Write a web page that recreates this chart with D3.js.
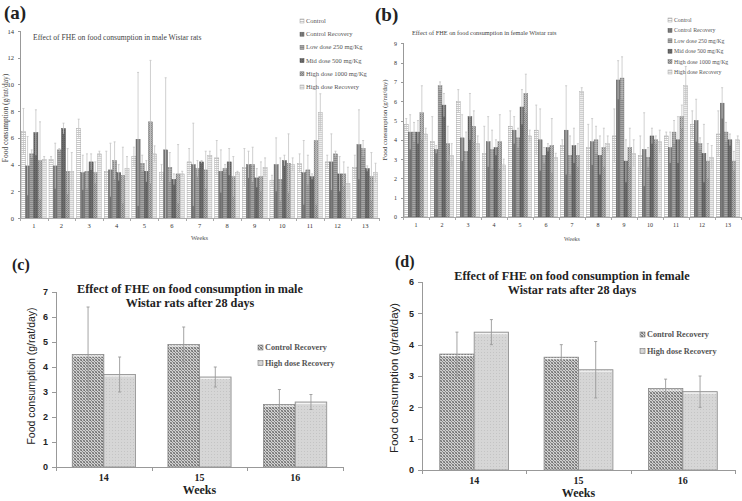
<!DOCTYPE html>
<html lang="en">
<head>
<meta charset="utf-8">
<title>Effect of FHE on food consumption</title>
<script src="https://cdn.jsdelivr.net/npm/d3@7"></script>
<style>
body { margin: 0; background: #fff; }
svg { display: block; }
.axis path, .axis line { stroke: #999; shape-rendering: crispEdges; }
</style>
</head>
<body>
<script>
// ---- data ----
var weeks = ["1","2","3","4","5","6","7","8","9","10","11","12","13"];
var seriesNames = ["Control", "Control Recovery", "Low dose 250 mg/Kg",
                   "Mid dose 500 mg/Kg", "High dose 1000 mg/Kg", "High dose Recovery"];

// male, weeks 1-13 (one array per series)
var maleControl = [6.5, 4.4, 6.7, 3.5, 4.6, 3.4, 4.2, 4.5, 3.8, 2.8, 4.1, 4.2, 3.8];
var maleCtrlRec = [3.9, 3.9, 3.4, 3.6, 5.9, 5.1, 4.0, 3.5, 4.0, 4.0, 3.4, 4.2, 5.5];
var maleLow     = [4.8, 5.1, 3.5, 4.3, 4.1, 3.8, 3.7, 3.7, 4.0, 2.9, 3.6, 4.8, 5.2];
var maleMid     = [6.4, 6.7, 4.2, 3.4, 3.5, 2.9, 4.2, 4.2, 3.0, 4.3, 3.1, 3.3, 3.7];
var maleHigh    = [4.3, 3.5, 3.4, 3.2, 7.2, 3.3, 3.6, 3.1, 3.1, 4.1, 5.8, 3.3, 3.1];
var maleHighRec = [4.4, 3.5, 4.8, 3.7, 4.8, 3.3, 4.7, 3.4, 3.8, 4.0, 7.9, 2.6, 3.4];

var maleControlSd = [1.7, 0.2, 0.7, 1.5, 0.7, 0.6, 1.0, 1.3, 1.4, 0.4, 0.7, 0.5, 0.9];
var maleCtrlRecSd = [2.2, 1.7, 1.3, 2.0, 5.0, 5.4, 3.1, 1.6, 1.0, 2.0, 2.4, 2.1, 2.6];
var maleLowSd     = [0.3, 0.1, 1.3, 1.4, 0.6, 1.1, 0.6, 0.3, 1.3, 1.6, 1.1, 0.2, 0.6];
var maleMidSd     = [1.7, 0.4, 0.6, 0.6, 0.8, 0.4, 0.1, 1.0, 0.7, 0.4, 0.2, 1.3, 0.2];
var maleHighSd    = [2.9, 1.7, 0.8, 2.1, 4.6, 2.2, 1.4, 1.5, 1.1, 2.2, 4.8, 0.9, 1.8];
var maleHighRecSd = [0.2, 1.4, 0.2, 0.9, 0.6, 0.2, 0.3, 0.1, 0.7, 0.5, 1.4, 1.2, 0.7];

// female, weeks 1-13
var femControl = [4.8, 3.9, 6.0, 3.3, 4.7, 4.5, 3.7, 3.6, 4.2, 3.2, 4.2, 4.8, 4.3];
var femCtrlRec = [4.4, 3.5, 4.1, 3.9, 4.5, 4.0, 4.5, 3.9, 7.1, 3.5, 3.6, 5.0, 5.9];
var femLow     = [4.4, 6.8, 3.4, 3.5, 4.1, 3.2, 3.2, 4.0, 7.2, 3.1, 4.4, 3.8, 4.4];
var femMid     = [4.4, 5.8, 5.2, 3.6, 5.7, 3.6, 3.7, 3.2, 2.9, 4.2, 4.0, 3.3, 4.0];
var femHigh    = [5.4, 3.8, 4.7, 3.9, 6.4, 3.7, 3.2, 3.6, 3.6, 4.0, 5.2, 2.9, 2.9];
var femHighRec = [4.3, 3.2, 3.8, 2.7, 4.2, 3.1, 6.5, 3.8, 3.3, 3.9, 6.8, 3.1, 4.0];

var femControlSd = [0.3, 1.3, 0.6, 1.4, 0.8, 1.3, 0.3, 1.2, 1.4, 1.0, 0.2, 0.7, 1.2];
var femCtrlRecSd = [0.9, 0.2, 1.2, 1.3, 0.7, 1.6, 2.3, 1.2, 1.0, 1.9, 0.8, 1.1, 0.8];
var femLowSd     = [0.5, 0.2, 1.0, 1.0, 0.5, 0.4, 1.0, 0.7, 1.1, 0.5, 0.6, 0.3, 0.5];
var femMidSd     = [0.6, 0.6, 1.2, 0.4, 0.9, 0.2, 0.9, 1.0, 1.1, 0.4, 1.2, 1.5, 0.3];
var femHighSd    = [1.4, 0.9, 0.8, 1.4, 1.0, 1.4, 0.6, 1.0, 1.0, 0.2, 0.6, 0.9, 0.5];
var femHighRecSd = [0.3, 0.6, 0.4, 0.3, 0.3, 0.2, 0.2, 0.4, 0.7, 0.6, 1.0, 0.6, 0.2];

// recovery period, weeks 14-16
var recWeeks = ["14", "15", "16"];
var recNames = ["Control Recovery", "High dose Recovery"];
var maleRecCtrl = [4.5, 4.9, 2.5],   maleRecCtrlSd = [1.9, 0.7, 0.6];
var maleRecHigh = [3.7, 3.6, 2.6],   maleRecHighSd = [0.7, 0.4, 0.3];
var femRecCtrl  = [3.7, 3.6, 2.6],   femRecCtrlSd  = [0.7, 0.4, 0.3];
var femRecHigh  = [4.4, 3.2, 2.5],   femRecHighSd  = [0.4, 0.9, 0.5];

var w = 742, h = 501;
var serif = '"Liberation Serif", "DejaVu Serif", serif';
var sans = '"Liberation Sans", Roboto, sans-serif';

var svg = d3.select("body").append("svg")
    .attr("width", w)
    .attr("height", h);

// ---- fill patterns ----
var defs = svg.append("defs");
function pattern(id, size, bg, cells) {
    var p = defs.append("pattern")
        .attr("id", id)
        .attr("width", size).attr("height", size)
        .attr("patternUnits", "userSpaceOnUse");
    p.append("rect").attr("width", size).attr("height", size).attr("fill", bg);
    cells.forEach(function(c) {
        p.append("rect").attr("x", c[0]).attr("y", c[1])
            .attr("width", c[2]).attr("height", c[3]).attr("fill", c[4]);
    });
}
pattern("pC",   2, "#ffffff", [[0, 0, 2, 1, "#c8c8c8"]]);
pattern("pCR",  2, "#7c7c7c", [[0, 0, 1, 2, "#707070"]]);
pattern("pL",   2, "#a8a8a8", [[0, 0, 2, 1, "#8a8a8a"]]);
pattern("pM",   2, "#6a6a6a", [[0, 0, 1, 1, "#5a5a5a"]]);
pattern("pH",   2, "#b0b0b0", [[0, 0, 1, 1, "#7e7e7e"], [1, 1, 1, 1, "#8e8e8e"]]);
pattern("pHR",  2, "#ececec", [[0, 0, 2, 1, "#d0d0d0"]]);
pattern("rCR",  3, "#d2d2d2", [[0, 0, 1, 1, "#6e6e6e"], [1, 1, 1, 1, "#8a8a8a"], [2, 2, 1, 1, "#7a7a7a"], [2, 0, 1, 1, "#9a9a9a"], [0, 2, 1, 1, "#9a9a9a"]]);
pattern("rHR",  3, "#d6d6d6", [[1, 1, 1, 1, "#c4c4c4"]]);

var weeklyFills = ["url(#pC)", "url(#pCR)", "url(#pL)", "url(#pM)", "url(#pH)", "url(#pHR)"];
var weeklyEdges = ["#9a9a9a", "#5e5e5e", "#777", "#4e4e4e", "#777", "#a8a8a8"];

// ---- weekly panel (a) / (b) ----
function weeklyPanel(o) {
    var g = svg.append("g");
    var x0 = d3.scaleBand().domain(weeks).range([o.left, o.right])
        .paddingInner(0.1).paddingOuter(0.05);
    var x1 = d3.scaleBand().domain(d3.range(seriesNames.length))
        .range([0, x0.bandwidth()]);
    var y = d3.scaleLinear().domain([0, o.yMax]).range([o.bottom, o.top]);

    var yAxis = d3.axisLeft(y).tickValues(o.ticks).tickSize(2).tickPadding(4);
    g.append("g").attr("class", "axis")
        .attr("transform", "translate(" + o.left + ",0)")
        .call(yAxis)
        .call(function(s) {
            s.selectAll("text").attr("font-family", serif).attr("font-size", o.tickFont).attr("fill", "#333");
            s.select(".domain").attr("stroke", "#bbb");
        });

    // bars
    o.means.forEach(function(vals, si) {
        g.append("g").selectAll("rect")
            .data(vals)
            .enter().append("rect")
            .attr("x", function(d, i) { return x0(weeks[i]) + x1(si); })
            .attr("y", function(d) { return y(d); })
            .attr("width", x1.bandwidth())
            .attr("height", function(d) { return y(0) - y(d); })
            .attr("fill", weeklyFills[si])
            .attr("stroke", weeklyEdges[si])
            .attr("stroke-width", 0.4);
    });
    // error bars
    o.means.forEach(function(vals, si) {
        var sds = o.sds[si];
        var eg = g.append("g").attr("stroke", "#c4c4c4").attr("stroke-width", 0.8);
        vals.forEach(function(d, i) {
            var cx = x0(weeks[i]) + x1(si) + x1.bandwidth() / 2;
            eg.append("line").attr("x1", cx).attr("x2", cx)
                .attr("y1", y(Math.max(0, d - sds[i]))).attr("y2", y(d + sds[i]));
            eg.append("line").attr("x1", cx - 1).attr("x2", cx + 1)
                .attr("y1", y(d + sds[i])).attr("y2", y(d + sds[i]));
        });
    });

    // x axis with ticks between weeks
    var step = x0.step();
    var xa = g.append("g").attr("stroke", "#aaa");
    xa.append("line").attr("x1", o.left).attr("x2", o.right)
        .attr("y1", y(0) + 0.5).attr("y2", y(0) + 0.5);
    weeks.concat([""]).forEach(function(wk, i) {
        var bx = Math.round(o.left + i * step) + 0.5;
        xa.append("line").attr("x1", bx).attr("x2", bx)
            .attr("y1", y(0)).attr("y2", y(0) + 3);
    });
    g.append("g").selectAll("text")
        .data(weeks).enter().append("text")
        .attr("x", function(d) { return x0(d) + x0.bandwidth() / 2; })
        .attr("y", y(0) + 10)
        .attr("text-anchor", "middle")
        .attr("font-family", serif).attr("font-size", o.tickFont).attr("fill", "#333")
        .text(function(d) { return d; });

    g.append("text")
        .attr("x", (o.left + o.right) / 2).attr("y", o.weeksY)
        .attr("text-anchor", "middle")
        .attr("font-family", serif).attr("font-size", o.tickFont).attr("fill", "#555")
        .text("Weeks");

    g.append("text")
        .attr("transform", "translate(" + o.yLabelX + "," + o.yLabelY + ") rotate(-90)")
        .attr("text-anchor", "middle")
        .attr("font-family", serif).attr("font-size", o.yLabelFont).attr("fill", "#444")
        .text("Food consumption (g/rat/day)");

    g.append("text")
        .attr("x", o.titleX).attr("y", o.titleY)
        .attr("font-family", serif).attr("font-size", o.titleFont).attr("fill", "#444")
        .text(o.title);

    // legend
    var lg = g.append("g").attr("transform", "translate(" + o.legendX + "," + o.legendY + ")");
    seriesNames.forEach(function(name, si) {
        var ly = si * o.legendStep;
        lg.append("rect").attr("x", 0).attr("y", ly - 4).attr("width", 4).attr("height", 4)
            .attr("fill", weeklyFills[si]).attr("stroke", weeklyEdges[si]).attr("stroke-width", 0.5);
        lg.append("text").attr("x", 6).attr("y", ly)
            .attr("font-family", serif).attr("font-size", o.legendFont).attr("fill", "#555")
            .text(name);
    });

    svg.append("text")
        .attr("x", o.tagX).attr("y", o.tagY)
        .attr("font-family", serif).attr("font-weight", "bold").attr("font-size", 19)
        .attr("fill", "#222")
        .text(o.tag);
}

weeklyPanel({
    tag: "(a)", tagX: 4, tagY: 19,
    left: 20, right: 379, top: 31, bottom: 218, yMax: 14,
    ticks: [0, 2, 4, 6, 8, 10, 12, 14], tickFont: 6.5,
    means: [maleControl, maleCtrlRec, maleLow, maleMid, maleHigh, maleHighRec],
    sds: [maleControlSd, maleCtrlRecSd, maleLowSd, maleMidSd, maleHighSd, maleHighRecSd],
    title: "Effect of FHE on food consumption in male Wistar rats",
    titleX: 33, titleY: 40, titleFont: 7.6,
    legendX: 300, legendY: 23, legendStep: 13.2, legendFont: 6.5,
    yLabelX: 8, yLabelY: 118, yLabelFont: 7.4, weeksY: 240
});

weeklyPanel({
    tag: "(b)", tagX: 375, tagY: 21,
    left: 403, right: 741, top: 43.3, bottom: 217, yMax: 9,
    ticks: [0, 1, 2, 3, 4, 5, 6, 7, 8, 9], tickFont: 6,
    means: [femControl, femCtrlRec, femLow, femMid, femHigh, femHighRec],
    sds: [femControlSd, femCtrlRecSd, femLowSd, femMidSd, femHighSd, femHighRecSd],
    title: "Effect of FHE on food consumption in female Wistar rats",
    titleX: 412, titleY: 35, titleFont: 6.3,
    legendX: 668, legendY: 22, legendStep: 10.4, legendFont: 5.8,
    yLabelX: 387, yLabelY: 120, yLabelFont: 6.8, weeksY: 241
});

// ---- recovery panel (c) / (d) ----
function recoveryPanel(o) {
    var g = svg.append("g");
    var x0 = d3.scaleBand().domain(recWeeks).range([o.left, o.right])
        .paddingInner(0.34).paddingOuter(0.17);
    var x1 = d3.scaleBand().domain([0, 1]).range([0, x0.bandwidth()]);
    var y = d3.scaleLinear().domain([0, o.yMax]).range([o.bottom, o.top]);
    var fills = ["url(#rCR)", "url(#rHR)"];

    g.append("g").attr("class", "axis")
        .attr("transform", "translate(" + o.left + ",0)")
        .call(d3.axisLeft(y).ticks(o.yMax).tickSize(4).tickPadding(4))
        .call(function(s) {
            s.selectAll("text").attr("font-family", sans).attr("font-weight", "bold")
                .attr("font-size", 9).attr("fill", "#222");
        });

    o.means.forEach(function(vals, si) {
        var bars = g.append("g").selectAll("g")
            .data(vals).enter().append("g");
        bars.append("rect")
            .attr("x", function(d, i) { return x0(recWeeks[i]) + x1(si); })
            .attr("y", function(d) { return y(d); })
            .attr("width", x1.bandwidth())
            .attr("height", function(d) { return y(0) - y(d); })
            .attr("fill", fills[si])
            .attr("stroke", "#8a8a8a").attr("stroke-width", 0.8);
        bars.append("line")
            .attr("x1", function(d, i) { return x0(recWeeks[i]) + x1(si) + 1; })
            .attr("x2", function(d, i) { return x0(recWeeks[i]) + x1(si) + x1.bandwidth() - 1; })
            .attr("y1", function(d) { return y(d) + 1.5; })
            .attr("y2", function(d) { return y(d) + 1.5; })
            .attr("stroke", "#f4f4f4").attr("stroke-width", 1.2);
    });
    o.means.forEach(function(vals, si) {
        var sds = o.sds[si];
        var eg = g.append("g").attr("stroke", "#9a9a9a").attr("stroke-width", 0.9);
        vals.forEach(function(d, i) {
            var cx = x0(recWeeks[i]) + x1(si) + x1.bandwidth() / 2;
            var lo = y(d - sds[i]), hi = y(d + sds[i]);
            eg.append("line").attr("x1", cx).attr("x2", cx).attr("y1", lo).attr("y2", hi);
            eg.append("line").attr("x1", cx - 1.5).attr("x2", cx + 1.5).attr("y1", lo).attr("y2", lo);
            eg.append("line").attr("x1", cx - 1.5).attr("x2", cx + 1.5).attr("y1", hi).attr("y2", hi);
        });
    });

    var step = x0.step();
    var xa = g.append("g").attr("stroke", "#999");
    xa.append("line").attr("x1", o.left).attr("x2", o.right)
        .attr("y1", y(0) + 0.5).attr("y2", y(0) + 0.5);
    recWeeks.concat([""]).forEach(function(wk, i) {
        var bx = Math.round(o.left + i * step) + 0.5;
        xa.append("line").attr("x1", bx).attr("x2", bx).attr("y1", y(0)).attr("y2", y(0) + 4);
    });
    g.append("g").selectAll("text")
        .data(recWeeks).enter().append("text")
        .attr("x", function(d) { return x0(d) + x0.bandwidth() / 2; })
        .attr("y", y(0) + 14)
        .attr("text-anchor", "middle")
        .attr("font-family", serif).attr("font-weight", "bold").attr("font-size", 10).attr("fill", "#222")
        .text(function(d) { return d; });

    g.append("text")
        .attr("x", (o.left + o.right) / 2).attr("y", o.weeksY)
        .attr("text-anchor", "middle")
        .attr("font-family", serif).attr("font-weight", "bold").attr("font-size", 12).attr("fill", "#222")
        .text("Weeks");

    g.append("text")
        .attr("transform", "translate(" + o.yLabelX + "," + o.yLabelY + ") rotate(-90)")
        .attr("text-anchor", "middle")
        .attr("font-family", sans).attr("font-size", o.yLabelFont).attr("fill", "#222")
        .text("Food consumption (g/rat/day)");

    o.title.forEach(function(line, i) {
        g.append("text")
            .attr("x", o.titleX).attr("y", o.titleY + i * 14)
            .attr("text-anchor", "middle")
            .attr("font-family", serif).attr("font-weight", "bold").attr("font-size", 12.2)
            .attr("fill", "#222")
            .text(line);
    });

    recNames.forEach(function(name, si) {
        var ly = o.legendY + si * o.legendStep;
        g.append("rect").attr("x", o.legendX).attr("y", ly - 5).attr("width", 5).attr("height", 5)
            .attr("fill", fills[si]).attr("stroke", "#777").attr("stroke-width", 0.6);
        g.append("text").attr("x", o.legendX + 7).attr("y", ly)
            .attr("font-family", serif).attr("font-weight", "bold").attr("font-size", 8.2).attr("fill", "#555")
            .text(name);
    });

    svg.append("text")
        .attr("x", o.tagX).attr("y", o.tagY)
        .attr("font-family", serif).attr("font-weight", "bold").attr("font-size", 16)
        .attr("fill", "#222")
        .text(o.tag);
}

recoveryPanel({
    tag: "(c)", tagX: 12, tagY: 270,
    left: 56, right: 343, top: 292, bottom: 467, yMax: 7,
    means: [maleRecCtrl, maleRecHigh], sds: [maleRecCtrlSd, maleRecHighSd],
    title: ["Effect of FHE on food consumption in male", "Wistar rats after 28 days"],
    titleX: 190, titleY: 293,
    legendX: 258, legendY: 350, legendStep: 15.5,
    yLabelX: 35, yLabelY: 376, yLabelFont: 10.5, weeksY: 494
});

recoveryPanel({
    tag: "(d)", tagX: 395, tagY: 267,
    left: 422, right: 735, top: 282, bottom: 470, yMax: 6,
    means: [femRecCtrl, femRecHigh], sds: [femRecCtrlSd, femRecHighSd],
    title: ["Effect of FHE on food consumption in female", "Wistar rats after 28 days"],
    titleX: 572, titleY: 280,
    legendX: 640, legendY: 337, legendStep: 16.5,
    yLabelX: 398, yLabelY: 378, yLabelFont: 11.5, weeksY: 497
});
</script>
</body>
</html>
